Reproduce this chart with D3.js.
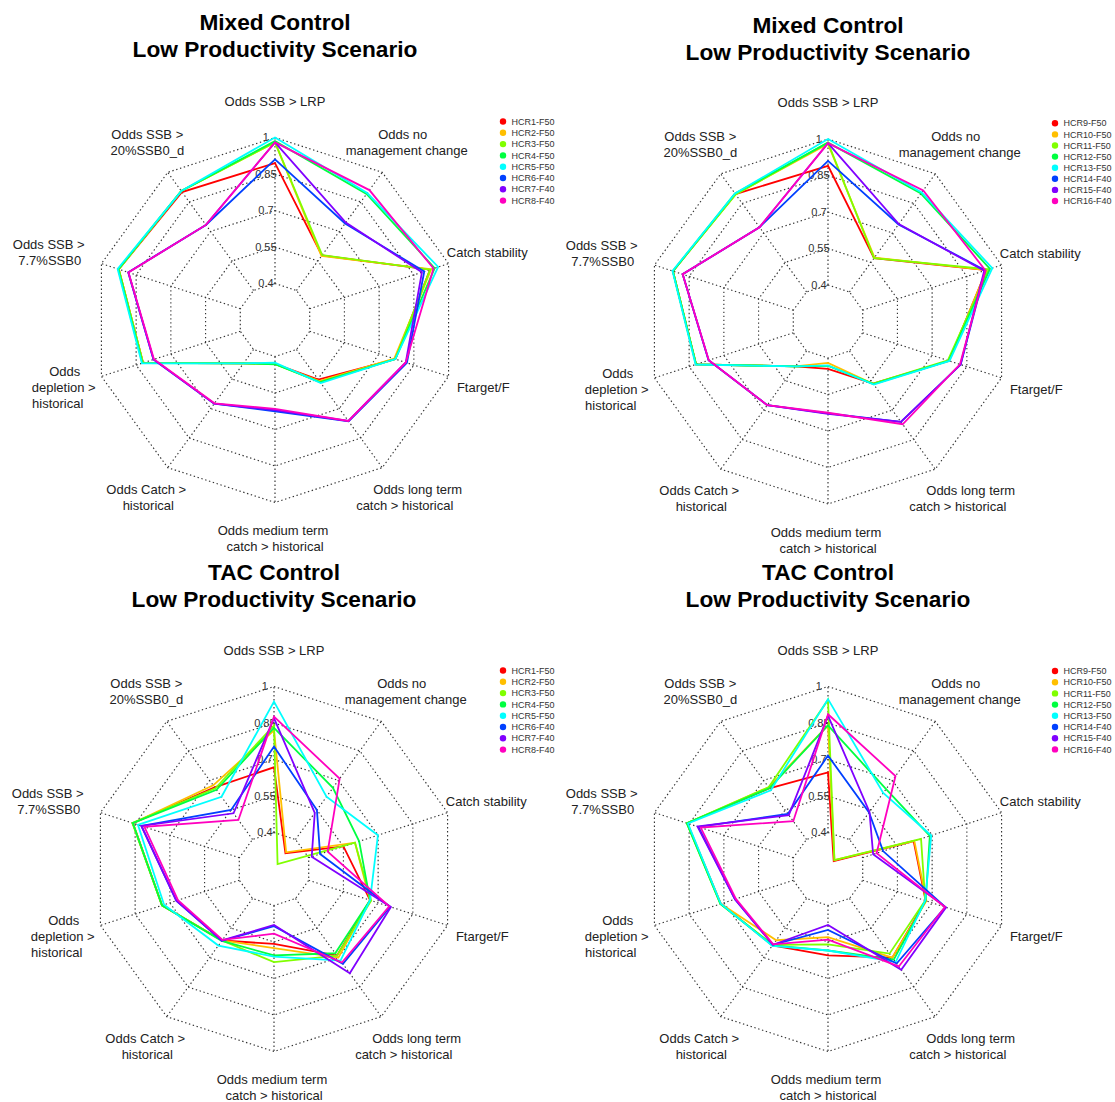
<!DOCTYPE html>
<html>
<head>
<meta charset="utf-8">
<script src="https://cdn.jsdelivr.net/npm/d3@7"></script>
<style>
  html, body { margin: 0; padding: 0; background: #fff; }
  svg { display: block; font-family: "Liberation Sans", Arial, sans-serif; }
</style>
</head>
<body>
<svg id="chart" width="1115" height="1102"></svg>
<script>
// ---------------- data ----------------
const axisLabels = [
  "Odds SSB > LRP",
  "Odds no\nmanagement change",
  "Catch stability",
  "Ftarget/F",
  "Odds long term\ncatch > historical",
  "Odds medium term\ncatch > historical",
  "Odds Catch >\nhistorical",
  "Odds\ndepletion >\nhistorical",
  "Odds SSB >\n7.7%SSB0",
  "Odds SSB >\n20%SSB0_d"
];
const tickValues = [0.4, 0.55, 0.7, 0.85, 1];
const tickLabels = ["0.4", "0.55", "0.7", "0.85", "1"];

const hcrNamesA = ["HCR1-F50","HCR2-F50","HCR3-F50","HCR4-F50","HCR5-F50","HCR6-F40","HCR7-F40","HCR8-F40"];
const hcrNamesB = ["HCR9-F50","HCR10-F50","HCR11-F50","HCR12-F50","HCR13-F50","HCR14-F40","HCR15-F40","HCR16-F40"];
const seriesColors = ["#FF0000","#FFBF00","#80FF00","#00FF40","#00FFFF","#0040FF","#8000FF","#FF00BF"];

const panelTitles = [
  ["Mixed Control", "Low Productivity Scenario"],
  ["Mixed Control", "Low Productivity Scenario"],
  ["TAC Control", "Low Productivity Scenario"],
  ["TAC Control", "Low Productivity Scenario"]
];

// Mixed control, HCR1-8 (axis order as axisLabels, clockwise from top)
const mixedA = [
  [0.895, 0.578, 0.920, 0.770, 0.553, 0.430, 0.470, 0.820, 0.925, 0.900],
  [0.980, 0.575, 0.925, 0.765, 0.560, 0.430, 0.470, 0.820, 0.925, 0.905],
  [0.980, 0.580, 0.920, 0.770, 0.565, 0.430, 0.470, 0.820, 0.925, 0.905],
  [0.985, 0.890, 0.940, 0.770, 0.565, 0.432, 0.470, 0.823, 0.927, 0.905],
  [1.000, 0.895, 0.955, 0.770, 0.570, 0.425, 0.470, 0.825, 0.930, 0.905],
  [0.910, 0.740, 0.895, 0.820, 0.765, 0.625, 0.675, 0.775, 0.884, 0.733],
  [0.980, 0.745, 0.885, 0.815, 0.763, 0.620, 0.675, 0.775, 0.884, 0.733],
  [0.980, 0.910, 0.935, 0.815, 0.763, 0.615, 0.673, 0.773, 0.883, 0.733]
];
// Mixed control, HCR9-16
const mixedB = [
  [0.890, 0.572, 0.935, 0.773, 0.565, 0.445, 0.478, 0.820, 0.920, 0.897],
  [0.980, 0.575, 0.935, 0.773, 0.568, 0.420, 0.478, 0.820, 0.920, 0.897],
  [0.985, 0.572, 0.945, 0.768, 0.565, 0.432, 0.478, 0.820, 0.920, 0.895],
  [0.985, 0.900, 0.950, 0.772, 0.568, 0.432, 0.478, 0.820, 0.920, 0.900],
  [1.000, 0.905, 0.960, 0.775, 0.570, 0.430, 0.478, 0.822, 0.922, 0.900],
  [0.910, 0.743, 0.930, 0.823, 0.760, 0.628, 0.675, 0.766, 0.878, 0.729],
  [0.983, 0.745, 0.925, 0.823, 0.760, 0.630, 0.675, 0.766, 0.878, 0.729],
  [0.983, 0.916, 0.930, 0.820, 0.772, 0.625, 0.675, 0.765, 0.878, 0.729]
];
// TAC control, HCR1-8
const tacA = [
  [0.668, 0.330, 0.550, 0.665, 0.690, 0.558, 0.613, 0.734, 0.860, 0.665],
  [0.820, 0.335, 0.600, 0.665, 0.700, 0.575, 0.613, 0.734, 0.860, 0.675],
  [0.840, 0.275, 0.600, 0.670, 0.690, 0.633, 0.613, 0.734, 0.862, 0.660],
  [0.830, 0.662, 0.618, 0.665, 0.678, 0.605, 0.615, 0.734, 0.860, 0.652],
  [0.938, 0.617, 0.699, 0.665, 0.715, 0.610, 0.639, 0.725, 0.838, 0.617],
  [0.753, 0.550, 0.449, 0.752, 0.732, 0.485, 0.615, 0.672, 0.823, 0.550],
  [0.870, 0.535, 0.413, 0.755, 0.780, 0.480, 0.613, 0.672, 0.823, 0.533],
  [0.876, 0.709, 0.482, 0.748, 0.725, 0.516, 0.610, 0.665, 0.810, 0.499]
];
// TAC control, HCR9-16
const tacB = [
  [0.647, 0.290, 0.620, 0.672, 0.700, 0.605, 0.638, 0.713, 0.858, 0.660],
  [0.840, 0.295, 0.623, 0.675, 0.700, 0.530, 0.612, 0.713, 0.858, 0.665],
  [0.945, 0.295, 0.652, 0.670, 0.680, 0.560, 0.635, 0.715, 0.860, 0.665],
  [0.840, 0.656, 0.690, 0.672, 0.710, 0.585, 0.638, 0.715, 0.860, 0.660],
  [0.948, 0.636, 0.696, 0.670, 0.723, 0.585, 0.640, 0.713, 0.855, 0.650],
  [0.716, 0.537, 0.488, 0.757, 0.730, 0.500, 0.635, 0.652, 0.810, 0.530],
  [0.880, 0.540, 0.445, 0.760, 0.762, 0.480, 0.635, 0.652, 0.814, 0.524],
  [0.886, 0.722, 0.460, 0.755, 0.745, 0.540, 0.633, 0.648, 0.800, 0.493]
];

// ---------------- layout ----------------
const R = 182.5;
const panels = [
  { cx: 275, cy: 320, titleY: 22, data: mixedA, names: hcrNamesA, legX: 503, legY: 121.5, legStep: 11.3 },
  { cx: 828, cy: 321.5, titleY: 25, data: mixedB, names: hcrNamesB, legX: 1055, legY: 123.3, legStep: 11.1 },
  { cx: 274, cy: 869, titleY: 572, data: tacA, names: hcrNamesA, legX: 503, legY: 670.5, legStep: 11.3 },
  { cx: 828, cy: 869, titleY: 572, data: tacB, names: hcrNamesB, legX: 1055, legY: 671, legStep: 11.2 }
];
// per-line horizontal nudges of the axis labels (relative to 1.2R anchor)
const labelNudge = [[0], [-1, 3], [4], [0], [14, 1], [-2, 0], [0, 2], [-2, -3, -9], [-18, -17], [1, 1]];

const svg = d3.select("#chart");
const nAx = axisLabels.length;
const angle = i => -Math.PI / 2 + i * 2 * Math.PI / nAx;
const rScale = d3.scaleLinear().domain([0.4, 1]).range([R / 5, R]);

const lineGen = d3.lineRadial()
  .angle((d, i) => i * 2 * Math.PI / nAx)
  .radius(d => rScale(d))
  .curve(d3.curveLinearClosed);

const gridStyle = sel => sel.attr("stroke", "#333").attr("stroke-width", 1.15)
  .attr("stroke-dasharray", "1.4,2.6").attr("fill", "none");

panels.forEach((p, pi) => {
  const g = svg.append("g").attr("transform", `translate(${p.cx},${p.cy})`);

  // title
  panelTitles[pi].forEach((t, k) => {
    svg.append("text")
      .attr("x", p.cx).attr("y", p.titleY + k * 27.5)
      .attr("dy", "0.35em")
      .attr("text-anchor", "middle")
      .attr("font-size", 22.7).attr("font-weight", "bold").attr("fill", "#000")
      .text(t);
  });

  // grid rings
  tickValues.forEach(v => {
    const pts = d3.range(nAx).map(i => [Math.cos(angle(i)) * rScale(v), Math.sin(angle(i)) * rScale(v)]);
    g.append("polygon")
      .attr("points", pts.map(q => q.join(",")).join(" "))
      .call(gridStyle);
  });
  // radial axes
  d3.range(nAx).forEach(i => {
    g.append("line")
      .attr("x1", Math.cos(angle(i)) * rScale(0.4)).attr("y1", Math.sin(angle(i)) * rScale(0.4))
      .attr("x2", Math.cos(angle(i)) * rScale(1)).attr("y2", Math.sin(angle(i)) * rScale(1))
      .call(gridStyle);
  });

  // tick labels
  tickValues.forEach((v, k) => {
    g.append("text")
      .attr("x", -0.05 * R).attr("y", -rScale(v)).attr("dy", "0.35em")
      .attr("text-anchor", "middle").attr("font-size", 11).attr("fill", "#333")
      .text(tickLabels[k]);
  });

  // axis labels
  axisLabels.forEach((lab, i) => {
    const lines = lab.split("\n");
    const ax = Math.cos(angle(i)) * R * 1.2;
    const ay = Math.sin(angle(i)) * R * 1.2;
    lines.forEach((ln, k) => {
      g.append("text")
        .attr("x", ax + labelNudge[i][k])
        .attr("y", ay + (k - (lines.length - 1) / 2) * 16 - (i === 5 ? 0.5 : 0))
        .attr("dy", "0.35em")
        .attr("text-anchor", "middle").attr("font-size", 13).attr("fill", "#222")
        .text(ln);
    });
  });

  // series
  p.data.forEach((vals, s) => {
    g.append("path")
      .attr("d", lineGen(vals))
      .attr("fill", "none").attr("stroke", seriesColors[s])
      .attr("stroke-width", 1.8).attr("stroke-linejoin", "miter");
  });

  // legend
  p.names.forEach((nm, s) => {
    const y = p.legY + s * p.legStep;
    svg.append("circle").attr("cx", p.legX).attr("cy", y).attr("r", 3.2).attr("fill", seriesColors[s]);
    svg.append("text").attr("x", p.legX + 8.5).attr("y", y).attr("dy", "0.35em")
      .attr("font-size", 9).attr("fill", "#333").text(nm);
  });
});
</script>
</body>
</html>
